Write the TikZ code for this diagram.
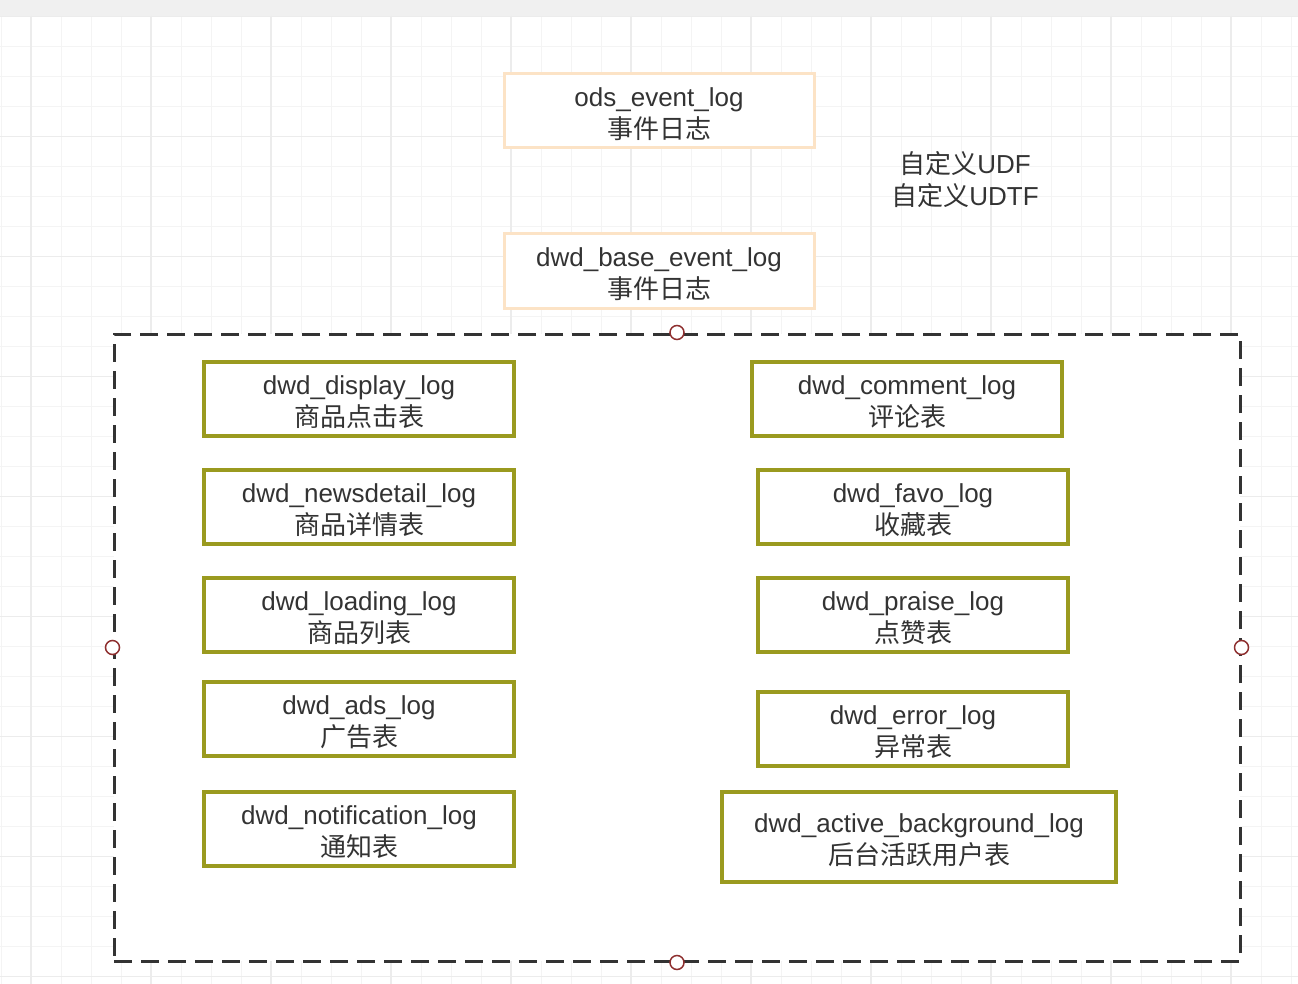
\documentclass[tikz,border=0pt]{standalone}
\usepackage{fontspec}
\setmainfont{Liberation Sans}
\newfontfamily\cjk{Noto Sans CJK SC}
\newcommand\tstr{\rule{0pt}{25pt}}
\definecolor{txt}{HTML}{333333}
\definecolor{peach}{HTML}{FCE3C6}
\definecolor{olive}{HTML}{9A9A1F}
\definecolor{gridminor}{HTML}{F4F4F4}
\definecolor{gridmajor}{HTML}{ECECEC}
\definecolor{band}{HTML}{F0F0F0}
\definecolor{portred}{HTML}{8E2F2F}
\tikzset{
  lbl/.style={align=center, text=txt, font=\fontsize{26}{31.5}\selectfont, inner sep=0pt},
  obox/.style={lbl, draw=peach, fill=white, line width=3pt, minimum width=310pt, minimum height=74pt},
  gbox/.style={lbl, draw=olive, fill=white, line width=3.5pt, minimum width=310pt, minimum height=74pt},
  dashbox/.style={draw=txt, fill=white, line width=3pt, dash pattern=on 18pt off 9pt, minimum width=1126pt, minimum height=627pt, inner sep=0pt},
  port/.style={circle, draw=portred, fill=white, line width=1.5pt, minimum size=14pt, inner sep=0pt},
}
\begin{document}
\begin{tikzpicture}[x=1pt,y=-1pt]
\useasboundingbox (0,0) rectangle (1298,984);
\fill[white] (0,0) rectangle (1298,984);
\fill[band] (0,0) rectangle (1298,16);
% grid
\foreach \i in {0,...,43} {
  \draw[gridminor, line width=1pt] ({1+30*\i},16) -- ({1+30*\i},984);
}
\foreach \j in {0,...,32} {
  \draw[gridminor, line width=1pt] (0,{16.5+30*\j}) -- (1298,{16.5+30*\j});
}
\foreach \i in {0,...,10} {
  \draw[gridmajor, line width=1.2pt] ({31+120*\i},16) -- ({31+120*\i},984);
}
\foreach \j in {0,...,8} {
  \draw[gridmajor, line width=1.2pt] (0,{16.5+120*\j}) -- (1298,{16.5+120*\j});
}
% top boxes
\node[obox] (ods) at (659,111) {\tstr ods\_event\_log\\{\cjk 事件日志}};
\node[obox] (base) at (659,271) {\tstr dwd\_base\_event\_log\\{\cjk 事件日志}};
\node[lbl] (udf) at (965,178) {\tstr{\cjk 自定义}UDF\\{\cjk 自定义}UDTF};
% group
\node[dashbox] (group) at (677,647.5) {};
\node[port] (pn) at (group.north) {};
\node[port] (ps) at (group.south) {};
\node[port] (pw) at (group.west) {};
\node[port] (pe) at (group.east) {};
% left column
\node[gbox] (display) at (359,399) {\tstr dwd\_display\_log\\{\cjk 商品点击表}};
\node[gbox] (newsdetail) at (359,507) {\tstr dwd\_newsdetail\_log\\{\cjk 商品详情表}};
\node[gbox] (loading) at (359,615) {\tstr dwd\_loading\_log\\{\cjk 商品列表}};
\node[gbox] (ads) at (359,719) {\tstr dwd\_ads\_log\\{\cjk 广告表}};
\node[gbox] (notification) at (359,829) {\tstr dwd\_notification\_log\\{\cjk 通知表}};
% right column
\node[gbox] (comment) at (907,399) {\tstr dwd\_comment\_log\\{\cjk 评论表}};
\node[gbox] (favo) at (913,507) {\tstr dwd\_favo\_log\\{\cjk 收藏表}};
\node[gbox] (praise) at (913,615) {\tstr dwd\_praise\_log\\{\cjk 点赞表}};
\node[gbox] (error) at (913,729) {\tstr dwd\_error\_log\\{\cjk 异常表}};
\node[gbox, minimum width=394pt, minimum height=90pt] (active) at (919,837) {\tstr dwd\_active\_background\_log\\{\cjk 后台活跃用户表}};
\end{tikzpicture}
\end{document}
